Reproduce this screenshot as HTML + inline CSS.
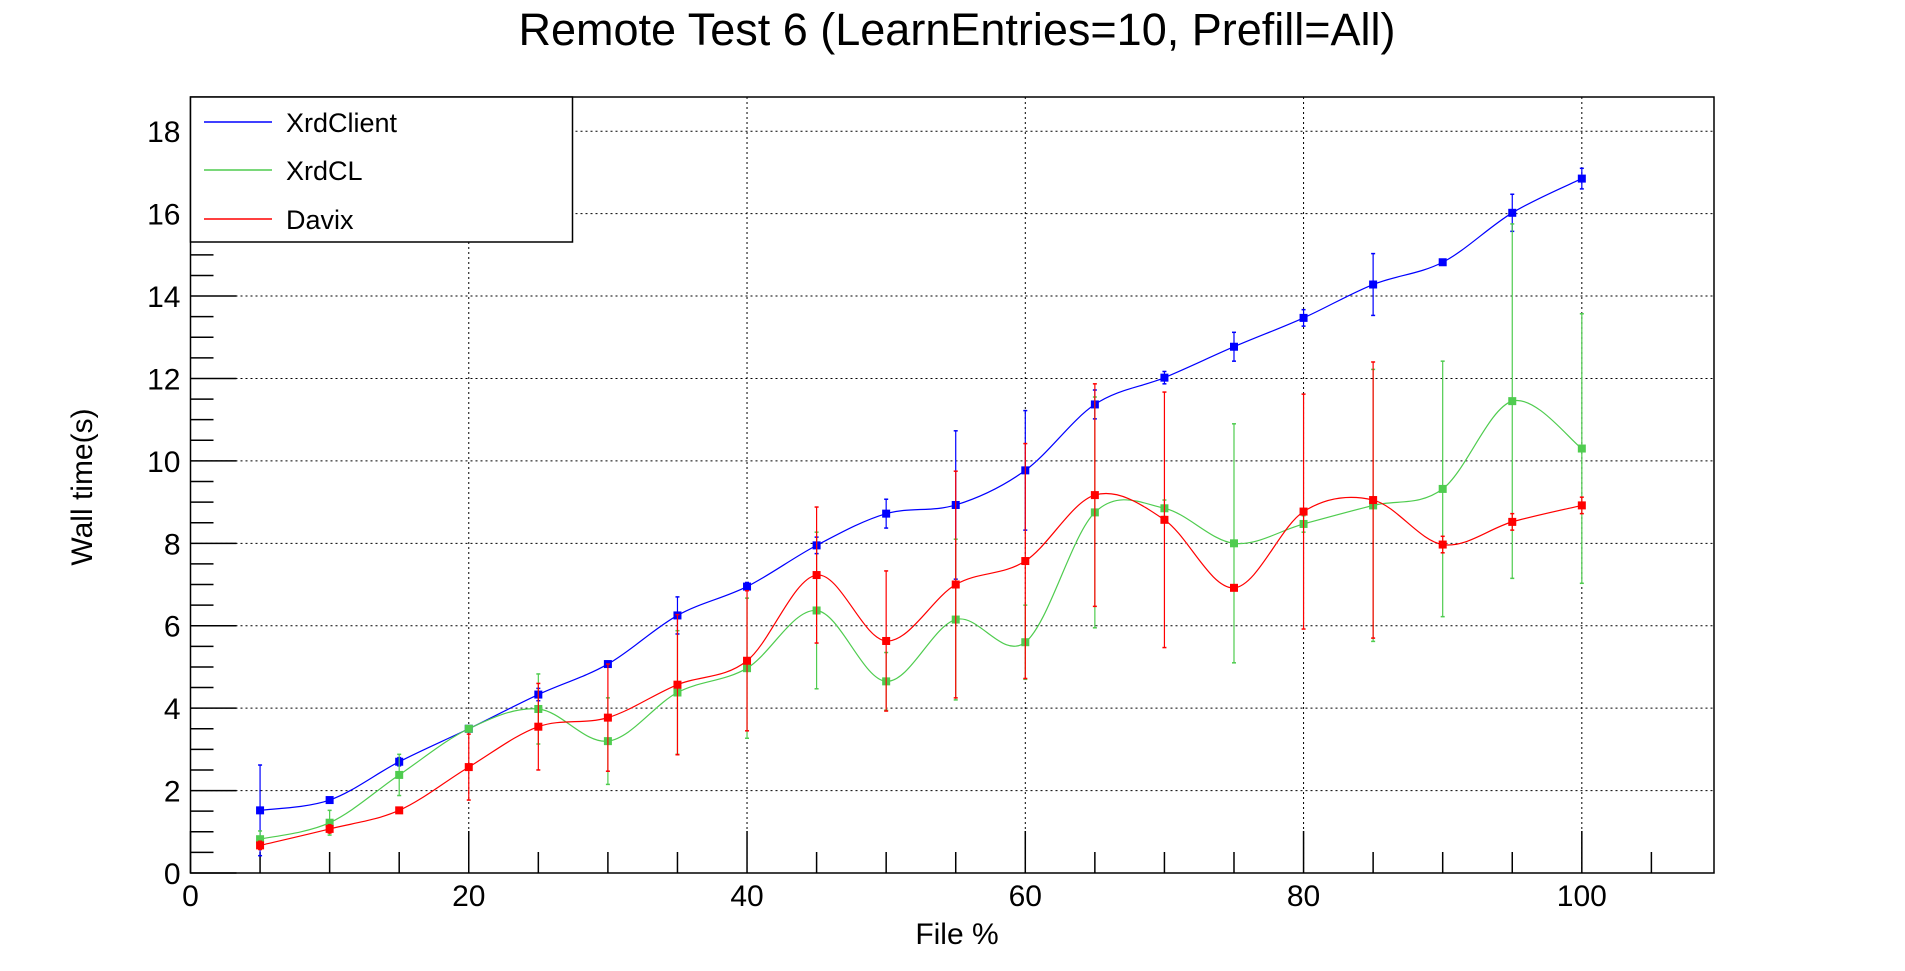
<!DOCTYPE html>
<html><head><meta charset="utf-8"><style>
body{margin:0;background:#fff;}
svg{display:block;font-family:"Liberation Sans",sans-serif;}
</style></head><body>
<svg id="chart" width="1905" height="971" xmlns="http://www.w3.org/2000/svg"></svg>
<script>
const xValues=[5,10,15,20,25,30,35,40,45,50,55,60,65,70,75,80,85,90,95,100];
const xrdClient=[1.52,1.77,2.7,3.5,4.33,5.07,6.25,6.95,7.95,8.72,8.93,9.77,11.37,12.02,12.77,13.47,14.28,14.82,16.02,16.85];
const xrdClientErr=[1.1,0.05,0.1,0.05,0.15,0.05,0.45,0.1,0.2,0.35,1.8,1.45,0.35,0.15,0.35,0.2,0.75,0.05,0.45,0.25];
const xrdCL=[0.82,1.22,2.38,3.5,3.98,3.2,4.38,4.97,6.37,4.65,6.15,5.6,8.75,8.85,8.0,8.47,8.92,9.32,11.45,10.3];
const xrdCLErr=[0.2,0.3,0.5,0.05,0.85,1.05,1.5,1.7,1.9,0.7,1.95,0.9,2.8,0.2,2.9,0.2,3.3,3.1,4.3,3.27];
const davix=[0.67,1.07,1.52,2.57,3.55,3.77,4.57,5.15,7.23,5.63,7.0,7.57,9.17,8.57,6.92,8.77,9.05,7.97,8.52,8.92];
const davixErr=[0.1,0.1,0.05,0.8,1.05,1.3,1.7,1.7,1.65,1.7,2.75,2.85,2.7,3.1,0.05,2.85,3.35,0.2,0.2,0.2];
const xTickLabels=[0,20,40,60,80,100];
const yTickLabels=[0,2,4,6,8,10,12,14,16,18];

const NS="http://www.w3.org/2000/svg";
const svg=document.getElementById('chart');
const L=190.5,R=1714,T=97,B=873,XMAX=109.5,YMAX=18.83;
const sx=v=>L+v/XMAX*(R-L);
const sy=v=>B-v/YMAX*(B-T);
function mk(tag,attrs,parent){const e=document.createElementNS(NS,tag);for(const k in attrs)e.setAttribute(k,attrs[k]);(parent||svg).appendChild(e);return e;}

const grid=mk('g',{});


xTickLabels.forEach(v=>{if(v>0)mk('line',{x1:sx(v),x2:sx(v),y1:T,y2:B,stroke:'#000','stroke-width':1,'stroke-dasharray':'2,3'},grid);});
yTickLabels.forEach(v=>{if(v>0)mk('line',{x1:L,x2:R,y1:sy(v),y2:sy(v),stroke:'#000','stroke-width':1,'stroke-dasharray':'2,3'},grid);});

const frame=mk('rect',{x:L,y:T,width:R-L,height:B-T,fill:'none',stroke:'#000','stroke-width':1.5});



const ticks=mk('g',{stroke:'#000','stroke-width':1.5});


for(let v=0;v<=XMAX;v+=5){const big=v%20===0;mk('line',{x1:sx(v),x2:sx(v),y1:B,y2:B-(big?42:21)},ticks);}
for(let v=0;v<=YMAX;v+=0.5){const big=Math.abs(v%2)<1e-6;mk('line',{x1:L,x2:L+(big?46:23),y1:sy(v),y2:sy(v)},ticks);}

xTickLabels.forEach(v=>{const t=mk('text',{x:sx(v),y:B+33,'text-anchor':'middle','font-size':30});t.textContent=v;

});
yTickLabels.forEach(v=>{const t=mk('text',{x:L-10,y:sy(v)+11,'text-anchor':'end','font-size':30});t.textContent=v;

});

const xt=mk('text',{x:957,y:944,'text-anchor':'middle','font-size':30});xt.textContent='File %';


const yt=mk('text',{x:92,y:487,'text-anchor':'middle','font-size':30,transform:'rotate(-90 92 487)'});yt.textContent='Wall time(s)';


const tt=mk('text',{x:957,y:45,'text-anchor':'middle','font-size':45});tt.textContent='Remote Test 6 (LearnEntries=10, Prefill=All)';



function spline(pts){let d='M'+pts[0][0]+','+pts[0][1];
for(let i=0;i<pts.length-1;i++){const p0=pts[Math.max(0,i-1)],p1=pts[i],p2=pts[i+1],p3=pts[Math.min(pts.length-1,i+2)];
const c1=[p1[0]+(p2[0]-p0[0])/6,p1[1]+(p2[1]-p0[1])/6],c2=[p2[0]-(p3[0]-p1[0])/6,p2[1]-(p3[1]-p1[1])/6];
d+=' C'+c1+' '+c2+' '+p2;}return d;}

function series(vals,errs,color,name){
const g=mk('g',{});


vals.forEach((v,i)=>{const x=sx(xValues[i]);
mk('line',{x1:x,x2:x,y1:sy(v-errs[i]),y2:sy(v+errs[i]),stroke:color,'stroke-width':1.2},g);
mk('line',{x1:x-2,x2:x+2,y1:sy(v-errs[i]),y2:sy(v-errs[i]),stroke:color,'stroke-width':1.5},g);
mk('line',{x1:x-2,x2:x+2,y1:sy(v+errs[i]),y2:sy(v+errs[i]),stroke:color,'stroke-width':1.5},g);});
const p=mk('path',{d:spline(vals.map((v,i)=>[sx(xValues[i]),sy(v)])),fill:'none',stroke:color,'stroke-width':1.2},g);


vals.forEach((v,i)=>{const m=mk('rect',{x:sx(xValues[i])-4,y:sy(v)-4,width:8,height:8,fill:color},g);

});
}
series(xrdClient,xrdClientErr,'#0000ff','xrdclient');
series(xrdCL,xrdCLErr,'#4fcc4f','xrdcl');
series(davix,davixErr,'#ff0000','davix');

const lg=mk('g',{});


mk('rect',{x:190.5,y:97,width:382,height:145,fill:'#fff',stroke:'#000','stroke-width':1.5},lg);
[['XrdClient','#0000ff',122],['XrdCL','#4fcc4f',170],['Davix','#ff0000',219]].forEach(e=>{
const eg=mk('g',{},lg);


mk('line',{x1:204,x2:272,y1:e[2],y2:e[2],stroke:e[1],'stroke-width':1.5},eg);
const t=mk('text',{x:286,y:e[2]+10,'font-size':27},eg);t.textContent=e[0];});
</script>
</body></html>
